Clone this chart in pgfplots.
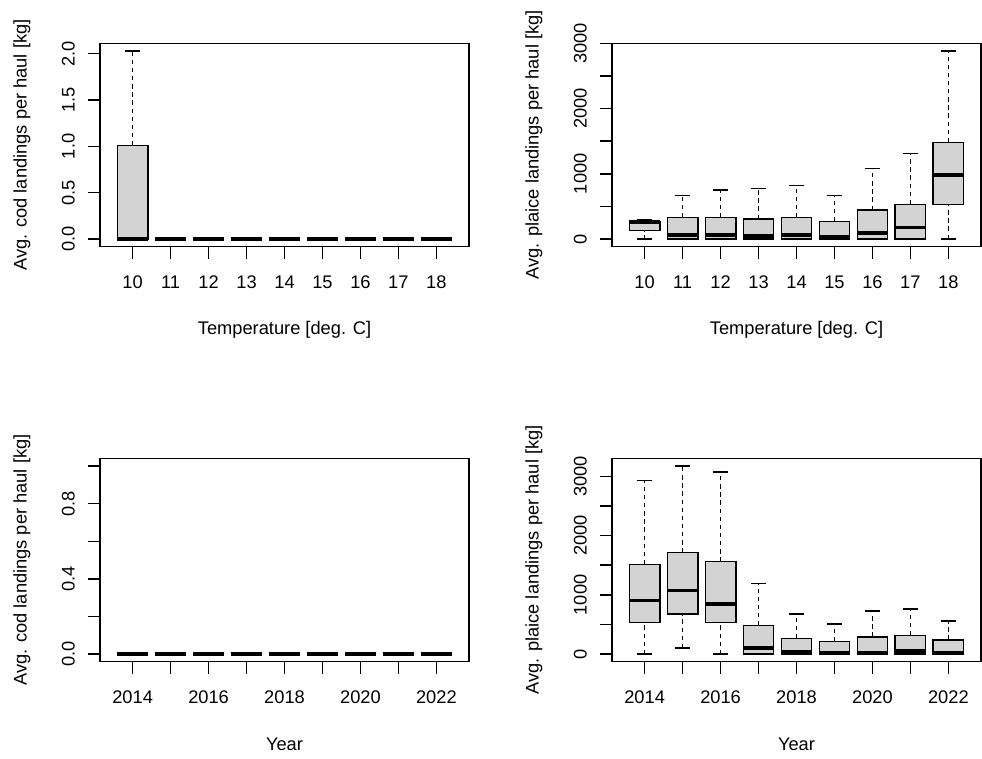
\documentclass[border=0pt]{standalone}
\usepackage{fontspec}
\setmainfont{Liberation Sans}
\usepackage{pgfplots}
\pgfplotsset{compat=1.18}
\definecolor{boxgray}{HTML}{D3D3D3}
\newcommand{\rfont}{\fontsize{13.7pt}{16pt}\selectfont}
\pgfplotsset{
  rpanel/.style={
    scale only axis,
    width=276.75pt, height=152.5pt,
    axis line style={line width=1.1pt, black},
    tick align=outside,
    major tick length=9pt,
    tick style={line width=1.1pt, black},
    xtick pos=bottom, ytick pos=left,
    scaled ticks=false,
    xmin=0.14, xmax=9.86,
    xtick={1,2,3,4,5,6,7,8,9},
    tick label style={font=\rfont},
    yticklabel style={xshift=-9.75pt, rotate=90, anchor=south, inner sep=0pt},
    xticklabel style={yshift=-22.6pt, anchor=base, inner sep=0pt},
    every axis x label/.style={at={(axis description cs:0.5,0)}, yshift=-62.25pt, anchor=center, font=\rfont},
    every axis y label/.style={at={(axis description cs:0,0.5)}, xshift=-58.5pt, rotate=90, anchor=center, font=\rfont},
    anchor=south west,
  },
  wh/.style={black, line width=1.1pt, dash pattern=on 3.3pt off 2.8pt, mark=none},
  cp/.style={black, line width=1.1pt, solid, mark=none},
  bx/.style={draw=black, fill=boxgray, line width=1.1pt, solid, mark=none},
  md/.style={black, line width=2.8pt, line cap=butt, solid, mark=none},
}
% \rbox{position}{lower whisker}{lower quartile}{median}{upper quartile}{upper whisker}
\newcommand{\rbox}[6]{%
  \pgfmathsetmacro\xl{#1-0.4}\pgfmathsetmacro\xr{#1+0.4}%
  \pgfmathsetmacro\cl{#1-0.2}\pgfmathsetmacro\cr{#1+0.2}%
  \edef\rboxtmp{%
    \noexpand\addplot[wh] coordinates {(#1,#2) (#1,#3)};
    \noexpand\addplot[wh] coordinates {(#1,#5) (#1,#6)};
    \noexpand\addplot[cp] coordinates {(\cl,#2) (\cr,#2)};
    \noexpand\addplot[cp] coordinates {(\cl,#6) (\cr,#6)};
    \noexpand\addplot[bx] coordinates {(\xl,#3) (\xr,#3) (\xr,#5) (\xl,#5)} --cycle;
    \noexpand\addplot[md] coordinates {(\xl,#4) (\xr,#4)};
  }%
  \rboxtmp
}
\begin{document}
\begin{tikzpicture}
\useasboundingbox (0,0) rectangle (736.5pt,568.5pt);

% ---- top left: cod vs temperature ----
\begin{axis}[rpanel, at={(75pt,383.5pt)},
  ymin=-0.0812, ymax=2.1112,
  ytick={0,0.5,1,1.5,2}, yticklabels={0.0,0.5,1.0,1.5,2.0},
  xticklabels={10,11,12,13,14,15,16,17,18},
  xlabel={Temperature [deg. C]},
  ylabel={Avg. cod landings per haul [kg]}]
\rbox{1}{0}{0}{0}{1.01}{2.03}
\rbox{2}{0}{0}{0}{0}{0}
\rbox{3}{0}{0}{0}{0}{0}
\rbox{4}{0}{0}{0}{0}{0}
\rbox{5}{0}{0}{0}{0}{0}
\rbox{6}{0}{0}{0}{0}{0}
\rbox{7}{0}{0}{0}{0}{0}
\rbox{8}{0}{0}{0}{0}{0}
\rbox{9}{0}{0}{0}{0}{0}
\end{axis}

% ---- top right: plaice vs temperature ----
\begin{axis}[rpanel, at={(459pt,383.5pt)},
  ymin=-118, ymax=3001,
  ytick={0,500,1000,1500,2000,2500,3000}, yticklabels={0,,1000,,2000,,3000},
  xticklabels={10,11,12,13,14,15,16,17,18},
  xlabel={Temperature [deg. C]},
  ylabel={Avg. plaice landings per haul [kg]}]
\rbox{1}{0}{127}{262}{268}{290}
\rbox{2}{0}{0}{66}{332}{665}
\rbox{3}{0}{0}{63}{332}{752}
\rbox{4}{0}{0}{40}{307}{777}
\rbox{5}{0}{0}{63}{332}{823}
\rbox{6}{0}{0}{30}{266}{665}
\rbox{7}{0}{0}{87}{445}{1084}
\rbox{8}{0}{0}{174}{532}{1309}
\rbox{9}{0}{532}{982}{1483}{2883}
\end{axis}

% ---- bottom left: cod vs year (all values 0) ----
\begin{axis}[rpanel, at={(75pt,72.2pt)},
  ymin=-0.04, ymax=1.04,
  ytick={0,0.2,0.4,0.6,0.8,1.0}, yticklabels={0.0,,0.4,,0.8,{}},
  xticklabels={2014,,2016,,2018,,2020,,2022},
  xlabel={Year},
  ylabel={Avg. cod landings per haul [kg]}]
\rbox{1}{0}{0}{0}{0}{0}
\rbox{2}{0}{0}{0}{0}{0}
\rbox{3}{0}{0}{0}{0}{0}
\rbox{4}{0}{0}{0}{0}{0}
\rbox{5}{0}{0}{0}{0}{0}
\rbox{6}{0}{0}{0}{0}{0}
\rbox{7}{0}{0}{0}{0}{0}
\rbox{8}{0}{0}{0}{0}{0}
\rbox{9}{0}{0}{0}{0}{0}
\end{axis}

% ---- bottom right: plaice vs year ----
\begin{axis}[rpanel, at={(459pt,72.2pt)},
  ymin=-127, ymax=3301,
  ytick={0,500,1000,1500,2000,2500,3000}, yticklabels={0,,1000,,2000,,3000},
  xticklabels={2014,,2016,,2018,,2020,,2022},
  xlabel={Year},
  ylabel={Avg. plaice landings per haul [kg]}]
\rbox{1}{0}{535}{906}{1514}{2932}
\rbox{2}{101}{675}{1075}{1711}{3174}
\rbox{3}{0}{535}{850}{1559}{3073}
\rbox{4}{0}{0}{101}{484}{1193}
\rbox{5}{0}{0}{34}{265}{681}
\rbox{6}{0}{0}{30}{214}{507}
\rbox{7}{0}{0}{30}{293}{732}
\rbox{8}{0}{0}{50}{315}{760}
\rbox{9}{0}{0}{30}{242}{557}
\end{axis}
\end{tikzpicture}
\end{document}
